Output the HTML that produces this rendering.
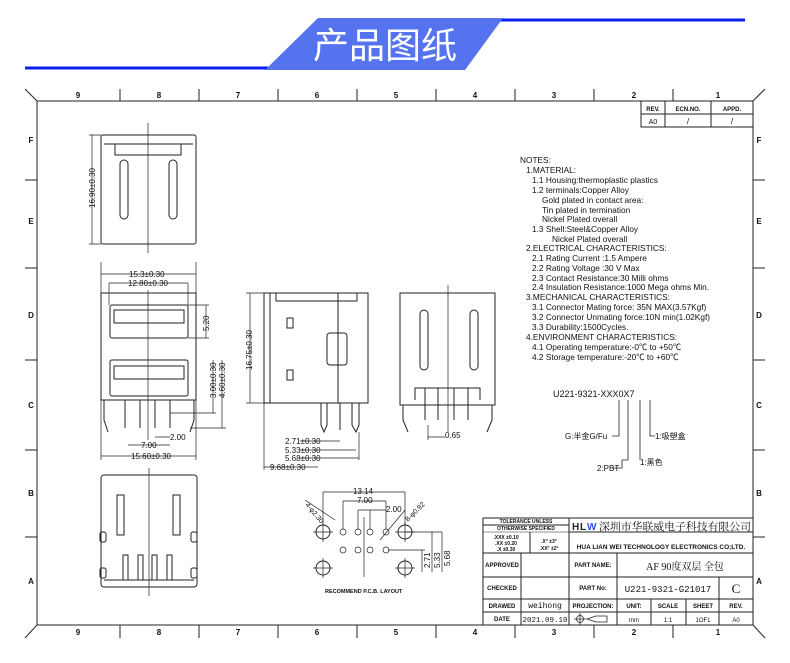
<!DOCTYPE html>
<html><head><meta charset="utf-8"><style>
html,body{margin:0;padding:0;background:#fff;}
svg{display:block;}
text{font-family:"Liberation Sans","Noto Sans CJK SC",sans-serif;fill:#111;}
.s{font-size:8px;}
.n{font-size:8.3px;}
</style></head><body>
<svg width="790" height="663" viewBox="0 0 790 663" xmlns="http://www.w3.org/2000/svg">
<line x1="25" y1="68" x2="268" y2="68" stroke="#0a1ef0" stroke-width="3"/>
<line x1="500" y1="20" x2="745" y2="20" stroke="#0a1ef0" stroke-width="3"/>
<polygon points="318,18 503,18 465,70 265,70" fill="#5573ee"/>
<text x="385" y="58" font-size="36" text-anchor="middle" style="fill:#fff" font-family="Noto Sans CJK SC,sans-serif">产品图纸</text>

<g stroke="#222" stroke-width="1" fill="none">
<rect x="37" y="101" width="716" height="524"/>
<line x1="25" y1="89" x2="37" y2="101"/><line x1="765" y1="89" x2="753" y2="101"/>
<line x1="25" y1="638" x2="37" y2="625"/><line x1="765" y1="638" x2="753" y2="625"/>
<path d="M120 89V101M199 89V101M278 89V101M357 89V101M436 89V101M515 89V101M594 89V101M673 89V101"/>
<path d="M120 625V638M199 625V638M278 625V638M357 625V638M436 625V638M515 625V638M594 625V638M673 625V638"/>
<path d="M25 180H37M25 268H37M25 360H37M25 450H37M25 537H37M753 180H765M753 268H765M753 360H765M753 450H765M753 537H765"/>
<path d="M641 101V127H753M641 114H753M665 101V127M711 101V127"/>
</g>
<g class="s" font-weight="bold" text-anchor="middle" font-size="8">
<text x="78" y="98">9</text><text x="159" y="98">8</text><text x="238" y="98">7</text><text x="317" y="98">6</text><text x="396" y="98">5</text><text x="475" y="98">4</text><text x="554" y="98">3</text><text x="634" y="98">2</text><text x="718" y="98">1</text>
<text x="78" y="635">9</text><text x="159" y="635">8</text><text x="238" y="635">7</text><text x="317" y="635">6</text><text x="396" y="635">5</text><text x="475" y="635">4</text><text x="554" y="635">3</text><text x="634" y="635">2</text><text x="718" y="635">1</text>
<text x="31" y="143">F</text><text x="31" y="224">E</text><text x="31" y="318">D</text><text x="31" y="408">C</text><text x="31" y="496">B</text><text x="31" y="584">A</text>
<text x="759" y="143">F</text><text x="759" y="224">E</text><text x="759" y="318">D</text><text x="759" y="408">C</text><text x="759" y="496">B</text><text x="759" y="584">A</text>
<text x="653" y="111" font-size="6">REV.</text><text x="688" y="111" font-size="6">ECN.NO.</text><text x="732" y="111" font-size="6">APPD.</text>
<text x="653" y="124" font-size="7" font-weight="normal">A0</text><text x="688" y="124" font-weight="normal">/</text><text x="732" y="124" font-weight="normal">/</text>
</g>

<g class="n">
<text x="520" y="163">NOTES:</text>
<text x="526" y="173">1.MATERIAL:</text>
<text x="532" y="183">1.1 Housing:thermoplastic plastics</text>
<text x="532" y="193">1.2 terminals:Copper Alloy</text>
<text x="542" y="203">Gold plated in contact area:</text>
<text x="542" y="213">Tin plated in termination</text>
<text x="542" y="222">Nickel Plated overall</text>
<text x="532" y="232">1.3 Shell:Steel&amp;Copper Alloy</text>
<text x="552" y="242">Nickel Plated overall</text>
<text x="526" y="251">2.ELECTRICAL CHARACTERISTICS:</text>
<text x="532" y="261">2.1 Rating Current :1.5 Ampere</text>
<text x="532" y="271">2.2 Rating Voltage :30 V Max</text>
<text x="532" y="281">2.3 Contact Resistance:30 Milli ohms</text>
<text x="532" y="290">2.4 Insulation Resistance:1000 Mega ohms Min.</text>
<text x="526" y="300">3.MECHANICAL CHARACTERISTICS:</text>
<text x="532" y="310">3.1 Connector Mating force: 35N MAX(3.57Kgf)</text>
<text x="532" y="320">3.2 Connector Unmating force:10N min(1.02Kgf)</text>
<text x="532" y="330">3.3 Durability:1500Cycles.</text>
<text x="526" y="340">4.ENVIRONMENT CHARACTERISTICS:</text>
<text x="532" y="350">4.1 Operating temperature:-0℃ to +50℃</text>
<text x="532" y="360">4.2 Storage temperature:-20℃ to +60℃</text>
<text x="553" y="397" font-size="9">U221-9321-XXX0X7</text>
<text x="565" y="439" font-size="8">G:半金G/Fu</text>
<text x="655" y="439" font-size="8">1:吸塑盒</text>
<text x="640" y="465" font-size="8">1:黑色</text>
<text x="597" y="471" font-size="8">2:PBT</text>
</g>
<g stroke="#222" fill="none" stroke-width="0.8">
<path d="M619 400V436H612M628 400V460H622V468H612M640 400V460H640M650 400V436H655"/>
</g>

<g stroke="#222" fill="none" stroke-width="1">
<rect x="101" y="135" width="95" height="109" rx="2"/>
<path d="M104 144H193M115 144V155H181V144"/>
<line x1="148" y1="123" x2="148" y2="253" stroke-width="0.7"/>
<rect x="120" y="160" width="8" height="59" rx="4"/><rect x="169" y="160" width="8" height="59" rx="4"/>
<path d="M92 135V244M89 135H101M89 244H101" stroke-width="0.7"/>
<rect x="101" y="293" width="95" height="107"/>
<rect x="110" y="305" width="78" height="33" rx="2"/><rect x="114" y="310" width="70" height="13"/>
<rect x="110" y="360" width="78" height="36" rx="2"/><rect x="114" y="366" width="70" height="13"/>
<line x1="148" y1="290" x2="148" y2="440" stroke-width="0.7"/>
<path d="M104 400V420L108 432M194 400V420L190 432M125 400V428M140 400V428M155 400V428M170 400V428"/>
<path d="M101 262V293M196 262V293M101 274H196M109 283H188M109 283V305M188 283V305" stroke-width="0.7"/>
<path d="M188 305H209M188 338H209M206 305V338M170 413H216M190 428H226M213 360V413M222 360V428M128 445H170M155 437H170M101 456H196M101 400V460M196 400V460" stroke-width="0.7"/>
<rect x="264" y="293" width="104" height="110"/>
<path d="M270 293V403M338 293V403M276 293V301H357V293"/>
<rect x="287" y="318" width="6" height="10"/><rect x="287" y="370" width="6" height="10"/>
<rect x="327" y="333" width="20" height="32" rx="3"/>
<path d="M321 403V425L324 432L327 425V403M352 403V425L356 432L359 425V403M340 403V430"/>
<path d="M250 293V403M246 293H264M246 403H264M340 441H300M356 450H300M359 458H300M318 467H264M264 403V470M359 432V460" stroke-width="0.7"/>
<rect x="400" y="293" width="95" height="112"/>
<rect x="420" y="310" width="8" height="60" rx="4"/><rect x="470" y="310" width="8" height="60" rx="4"/>
<line x1="448" y1="285" x2="448" y2="432" stroke-width="0.7"/>
<path d="M415 400V388H480V400M425 388V420M438 388V420M454 388V420M468 388V420M403 405V420L408 432M492 405V420L487 432"/>
<path d="M428 425V440M428 437H445" stroke-width="0.7"/>
<rect x="101" y="475" width="96" height="112" rx="3"/>
<rect x="117" y="495" width="7" height="40"/><rect x="173" y="495" width="7" height="40"/>
<line x1="149" y1="468" x2="149" y2="596" stroke-width="0.7"/>
<path d="M123 555h5v25h-5zM138 555h5v25h-5zM152 555h5v25h-5zM167 555h5v25h-5zM104 580H194"/>
<rect x="100" y="532" width="6" height="10" rx="2"/><rect x="191" y="532" width="6" height="10" rx="2"/>
<rect x="100" y="568" width="6" height="10" rx="2"/><rect x="191" y="568" width="6" height="10" rx="2"/>
<circle cx="323" cy="532" r="7"/><circle cx="405" cy="532" r="7"/><circle cx="323" cy="568" r="7"/><circle cx="405" cy="568" r="7"/>
<g stroke-width="0.7">
<path d="M313 532H333M323 522V542M395 532H415M405 522V542M313 568H333M323 558V578M395 568H415M405 558V578"/>
<circle cx="343" cy="532" r="3"/><circle cx="358" cy="532" r="3"/><circle cx="370" cy="532" r="3"/><circle cx="386" cy="532" r="3"/>
<circle cx="343" cy="550" r="3"/><circle cx="358" cy="550" r="3"/><circle cx="370" cy="550" r="3"/><circle cx="386" cy="550" r="3"/>
<path d="M364 517V577M323 492H405M323 492V525M405 492V525M343 501H386M343 501V529M386 501V529M358 510H386M358 510V529M370 510V529"/>
<path d="M405 532H442M388 550H425M422 550V572M432 532V572M442 532V572M305 500L335 520M405 510L380 540"/>
</g>
</g>
<g class="s" font-size="7.5">
<text transform="translate(95,208) rotate(-90)">16.90±0.30</text>
<text x="129" y="277">15.3±0.30</text>
<text x="128" y="286">12.80±0.30</text>
<text transform="translate(209,331) rotate(-90)">5.20</text>
<text transform="translate(216,398) rotate(-90)">3.00±0.30</text>
<text transform="translate(225,398) rotate(-90)">4.60±0.30</text>
<text x="170" y="440">2.00</text>
<text x="141" y="448">7.00</text>
<text x="131" y="459">15.60±0.30</text>
<text transform="translate(252,370) rotate(-90)">16.75±0.30</text>
<text x="285" y="444">2.71±0.30</text>
<text x="285" y="453">5.33±0.30</text>
<text x="285" y="461">5.68±0.30</text>
<text x="270" y="470">9.68±0.30</text>
<text x="445" y="438">0.65</text>
<text x="353" y="494">13.14</text>
<text x="357" y="503">7.00</text>
<text x="386" y="512">2.00</text>
<text transform="translate(305,505) rotate(50)" font-size="7">4-φ2.30</text>
<text transform="translate(408,522) rotate(-45)" font-size="7">8-φ0.92</text>
<text transform="translate(430,568) rotate(-90)">2.71</text>
<text transform="translate(440,568) rotate(-90)">5.33</text>
<text transform="translate(450,566) rotate(-90)">5.68</text>
<text x="325" y="593" font-size="5.5" font-weight="bold">RECOMMEND P.C.B. LAYOUT</text>
</g>

<g stroke="#222" fill="none" stroke-width="1">
<rect x="483" y="518" width="270" height="107"/>
<path d="M483 553H753M569 518V625M483 577H753M483 599H753M483 612H753M521 553V625M617 553V625M719 577V599M651 599V625M686 599V625M719 599V625M569 532H753M483 525H569M530 532V553"/>
<path d="M483 532H569" stroke-width="0.6"/>
</g>
<g text-anchor="middle" font-size="6" font-weight="bold">
<text x="526" y="523" font-size="5">TOLERANCE UNLESS</text>
<text x="526" y="530" font-size="5">OTHERWISE SPECIFIED</text>
<text x="506" y="539" font-size="5">.XXX ±0.10</text><text x="506" y="545" font-size="5">.XX ±0.20</text><text x="506" y="551" font-size="5">.X ±0.30</text>
<text x="549" y="543" font-size="5">.X° ±3°</text><text x="549" y="550" font-size="5">.XX° ±2°</text>
<text x="502" y="567">APPROVED</text><text x="502" y="590">CHECKED</text><text x="502" y="608">DRAWED</text><text x="502" y="621">DATE</text>
<text x="593" y="567">PART NAME:</text><text x="593" y="590">PART No:</text><text x="593" y="608">PROJECTION:</text>
<text x="634" y="608">UNIT:</text><text x="668" y="608">SCALE</text><text x="703" y="608">SHEET</text><text x="736" y="608">REV.</text>
<text x="634" y="622" font-weight="normal">mm</text><text x="668" y="622" font-weight="normal">1:1</text><text x="703" y="622" font-weight="normal">1OF1</text><text x="736" y="622" font-weight="normal">A0</text>
<text x="661" y="549" font-size="6.5">HUA LIAN WEI TECHNOLOGY ELECTRONICS CO;LTD.</text>
</g>
<g text-anchor="middle">
<text x="545" y="608" font-size="8" style="font-family:'Liberation Mono',monospace">weihong</text>
<text x="545" y="622" font-size="7.5" style="font-family:'Liberation Mono',monospace">2021.09.10</text>
<text x="685" y="570" font-size="10" style="font-family:'Liberation Serif','Noto Serif CJK SC',serif">AF 90度双层 全包</text>
<text x="668" y="592" font-size="9" style="font-family:'Liberation Mono',monospace">U221-9321-G21017</text>
<text x="736" y="593" font-size="13" style="font-family:'Liberation Serif',serif">C</text>
</g>
<text x="572" y="530" font-size="10" font-weight="bold" style="fill:#222">H</text>
<text x="580" y="530" font-size="10" font-weight="bold" style="fill:#222">L</text>
<text x="587" y="530" font-size="10" font-weight="bold" style="fill:#3050e0">W</text>
<text x="599" y="530" font-size="10.5" textLength="152" lengthAdjust="spacingAndGlyphs" style="font-family:'Noto Serif CJK SC',serif">深圳市华联威电子科技有限公司</text>
<g stroke="#222" fill="none" stroke-width="0.8">
<circle cx="580" cy="619" r="3.5"/><path d="M574 619H586M580 613V625M587 619L596 616H607V622H596Z"/>
</g>
</svg>
</body></html>
